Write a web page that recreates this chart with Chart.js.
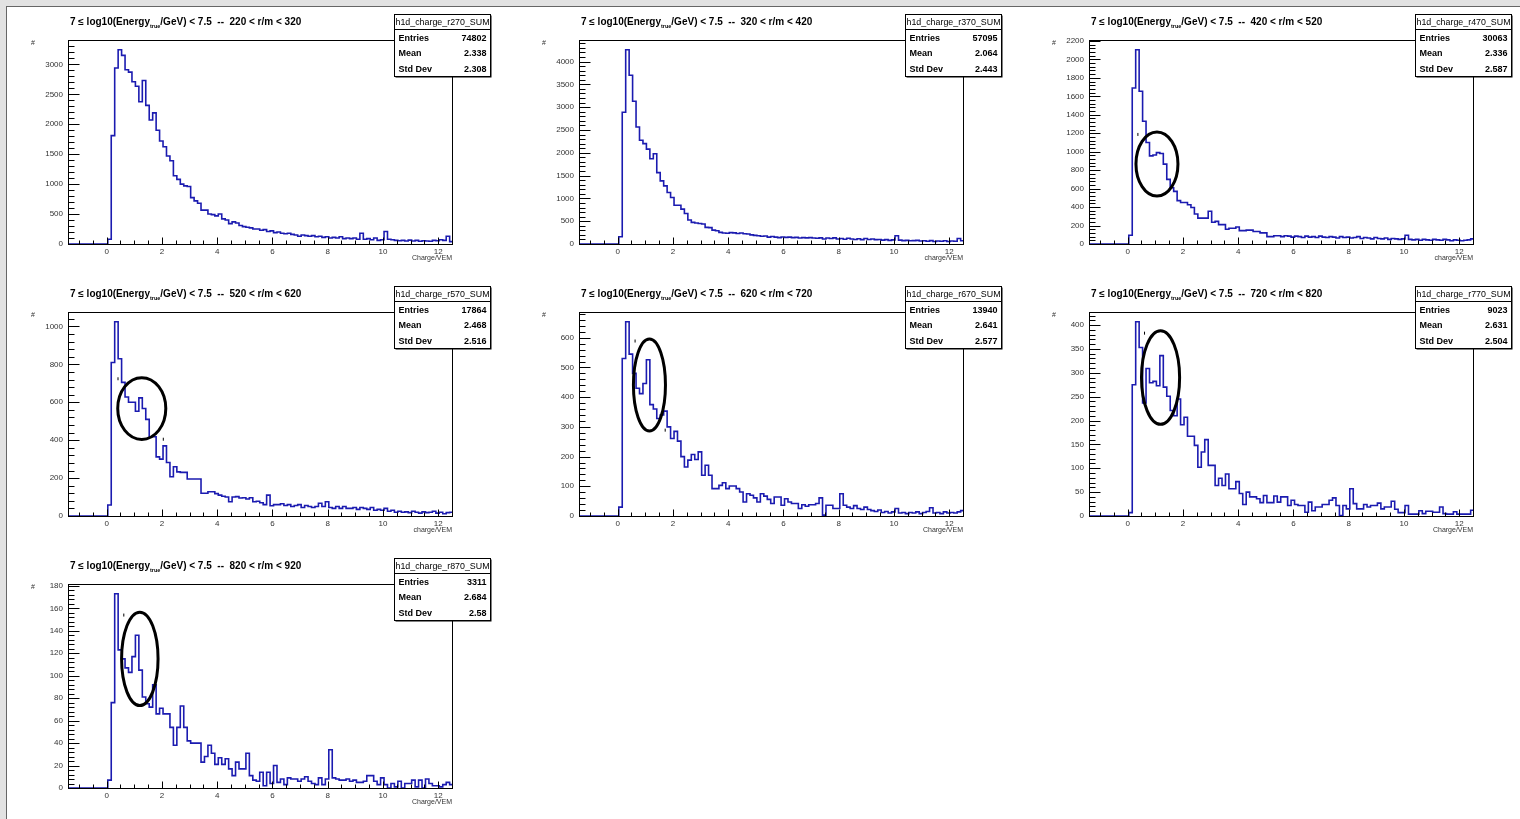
<!DOCTYPE html>
<html>
<head>
<meta charset="utf-8">
<script src="https://cdn.jsdelivr.net/npm/chart.js@4.4.1/dist/chart.umd.min.js"></script>
<style>
  html, body { margin: 0; padding: 0; }
  body { width: 1520px; height: 819px; background: #e2e2e2; overflow: hidden; position: relative; }
  #sheet { position: absolute; left: 6px; top: 6px; width: 1514px; height: 813px; background: #fff;
           border-left: 1px solid #666; border-top: 1px solid #666; }
  .pad { position: absolute; width: 510px; height: 272px; }
</style>
</head>
<body>
<div id="sheet"></div>
<script>
const FONT = '"Liberation Sans", Arial, Helvetica, sans-serif';

// binning of the histograms (first filled bin edge, bin width) and axis range
const BIN_LO = 0.04;
const BIN_W = 0.125;
const X_MIN = -1.4;
const X_MAX = 12.5;
const X_MAJOR = 2;
const X_MINOR = 0.5;

// one entry per pad, left to right, top to bottom
const rangeLabels = ["220 < r/m < 320", "320 < r/m < 420", "420 < r/m < 520", "520 < r/m < 620",
                     "620 < r/m < 720", "720 < r/m < 820", "820 < r/m < 920"];
const histNames = ["h1d_charge_r270_SUM", "h1d_charge_r370_SUM", "h1d_charge_r470_SUM", "h1d_charge_r570_SUM",
                   "h1d_charge_r670_SUM", "h1d_charge_r770_SUM", "h1d_charge_r870_SUM"];
const entries = ["74802", "57095", "30063", "17864", "13940", "9023", "3311"];
const means = ["2.338", "2.064", "2.336", "2.468", "2.641", "2.631", "2.684"];
const stdDevs = ["2.308", "2.443", "2.587", "2.516", "2.577", "2.504", "2.58"];
const xTitles = ["Charge/VEM", "charge/VEM", "charge/VEM", "charge/VEM", "Charge/VEM", "Charge/VEM", "Charge/VEM"];
const yMajorSteps = [500, 500, 200, 200, 100, 50, 20];
const yMinorSteps = [100, 100, 40, 40, 20, 10, 4];

// bin contents, starting at BIN_LO
const counts220 = [
  80, 1810, 2940, 3245, 3150, 2910, 2870, 2710, 2635, 2375,
  2730, 2315, 2070, 2190, 1900, 1720, 1625, 1470, 1390, 1140,
  1080, 1000, 970, 960, 775, 720, 680, 565, 565, 500,
  490, 470, 500, 420, 400, 340, 370, 350, 310, 290,
  280, 270, 250, 250, 230, 240, 210, 220, 190, 200,
  180, 170, 180, 160, 150, 130, 150, 140, 130, 140,
  120, 130, 110, 120, 100, 110, 100, 120, 90, 100,
  90, 100, 80, 180, 80, 90, 70, 100, 60, 70,
  210, 80, 70, 60, 55, 60, 50, 65, 50, 60,
  45, 55, 50, 45, 60, 55, 70, 60, 130, 40
];
const counts320 = [
  160, 2890, 4260, 3700, 3130, 2565, 2275, 2200, 2080, 1870,
  1980, 1565, 1385, 1275, 1130, 1020, 850, 850, 765, 670,
  525, 475, 460, 450, 440, 365, 360, 305, 290, 255,
  240, 235, 250, 245, 230, 240, 225, 220, 200, 190,
  180, 170, 175, 150, 165, 150, 140, 155, 145, 150,
  140, 145, 130, 140, 135, 140, 130, 125, 135, 110,
  130, 120, 135, 110, 120, 105, 125, 110, 100, 115,
  95, 120, 100, 110, 95, 100, 85, 95, 80, 90,
  180, 85, 75, 80, 70, 75, 80, 65, 70, 60,
  75, 55, 65, 60, 70, 55, 65, 60, 120, 70
];
const counts420 = [
  95, 1690, 2105, 1655, 1330, 1100, 955, 965, 990, 980,
  865, 700, 610, 570, 470, 450, 450, 425, 395, 325,
  280, 280, 280, 355, 235, 245, 210, 210, 160, 170,
  170, 185, 145, 145, 150, 150, 135, 135, 120, 120,
  80, 80, 90, 90, 80, 90, 85, 75, 85, 80,
  70, 85, 75, 80, 70, 85, 75, 70, 80, 75,
  65, 80, 70, 75, 65, 70, 80, 60, 70, 65,
  55, 70, 60, 55, 65, 50, 60, 55, 50, 55,
  95, 50, 45, 50, 40, 50, 45, 40, 50, 45,
  40, 50, 45, 35, 45, 40, 35, 40, 45, 55
];
const counts520 = [
  58, 810, 1025, 830, 705, 628, 600, 600, 553, 623,
  567, 510, 418, 418, 312, 300, 370, 282, 207, 260,
  233, 230, 230, 195, 195, 195, 195, 120, 120, 128,
  128, 118, 110, 104, 100, 75, 100, 102, 95, 96,
  90, 96, 75, 78, 70, 60, 110, 54, 60, 60,
  65, 55, 60, 50, 55, 60, 45, 55, 50, 45,
  50, 67, 50, 75, 45, 40, 50, 40, 50, 40,
  40, 45, 35, 45, 40, 35, 45, 30, 35, 30,
  40, 25, 30, 20, 25, 20, 22, 18, 25, 20,
  15, 22, 18, 20, 25, 15, 20, 12, 18, 20
];
const counts620 = [
  30, 530, 654, 545, 480, 430, 412, 446, 526, 375,
  360, 328, 340, 353, 300, 261, 285, 252, 200, 165,
  188, 207, 190, 216, 137, 171, 137, 92, 92, 103,
  112, 92, 101, 101, 92, 81, 47, 75, 70, 61,
  47, 75, 67, 56, 42, 64, 64, 36, 58, 47,
  42, 42, 25, 38, 33, 38, 38, 42, 61, 3,
  36, 36, 25, 25, 75, 36, 30, 25, 35, 25,
  22, 30, 22, 18, 15, 20, 12, 15, 10, 14,
  25, 10, 12, 8, 12, 10, 14, 8, 12, 15,
  28, 10, 12, 8, 14, 10, 12, 10, 14, 18
];
const counts720 = [
  7, 275, 407, 353, 237, 309, 279, 282, 273, 336,
  270, 251, 221, 210, 245, 191, 207, 167, 167, 148,
  102, 134, 160, 106, 106, 64, 79, 64, 88, 57,
  57, 72, 47, 24, 50, 40, 40, 36, 28, 43,
  28, 28, 42, 29, 40, 40, 22, 33, 24, 22,
  22, 8, 29, 11, 19, 19, 24, 24, 33, 38,
  22, 1, 22, 15, 57, 26, 15, 15, 24, 19,
  22, 22, 27, 15, 19, 19, 31, 14, 7, 7,
  22, 4, 4, 4, 11, 5, 10, 10, 8, 8,
  19, 5, 4, 4, 9, 4, 4, 4, 4, 12
];
const counts820 = [
  7, 76, 173, 123, 115, 107, 103, 117, 136, 105,
  81, 75, 72, 92, 66, 71, 66, 66, 54, 38,
  54, 73, 54, 42, 40, 40, 40, 23, 28, 38,
  31, 21, 27, 21, 26, 17, 11, 23, 17, 17,
  31, 11, 7, 6, 14, 2, 14, 4, 20, 5,
  8, 3, 9, 8, 8, 6, 8, 10, 6, 4,
  3, 9, 3, 8, 34, 9, 8, 7, 7, 8,
  6, 7, 5, 5, 6, 11, 11, 6, 3, 9,
  3, 0, 4, 1, 6, 0, 4, 4, 7, 1,
  7, 0, 8, 4, 2, 2, 1, 3, 5, 3
];
const countsByPad = [counts220, counts320, counts420, counts520, counts620, counts720, counts820];

// stray black error-bar ticks visible in some pads
const markXs = [[], [], [0.37], [0.41, 2.05], [0.63, 1.72], [0.61], [0.62]];
const markYs = [[], [], [1187], [724, 405], [589, 289], [383], [154]];

// hand-drawn circles (data units: centre x, centre y, radius x, radius y)
const circles = [null, null,
  {cx: 1.06, cy: 867, rx: 0.76, ry: 347},
  {cx: 1.27, cy: 567, rx: 0.87, ry: 163},
  {cx: 1.15, cy: 441, rx: 0.58, ry: 155},
  {cx: 1.19, cy: 290, rx: 0.69, ry: 98},
  {cx: 1.20, cy: 115, rx: 0.66, ry: 41.6}];

const HIST_COLOR = '#1b1bb0';

function isMultiple(v, step) {
  const r = v / step;
  return Math.abs(r - Math.round(r)) < 1e-6;
}

// multiples of step inside [lo, hi]
function stepsBetween(lo, hi, step) {
  const out = [];
  for (let k = Math.ceil(lo / step - 1e-9); k * step <= hi + 1e-9; k++) {
    out.push(Math.round(k * step * 1000) / 1000);
  }
  return out;
}

const rootStyle = {
  id: 'rootStyle',
  afterDraw(chart, args, opts) {
    const { ctx, chartArea: a, scales: { x, y } } = chart;
    ctx.save();

    // circle around the feature
    if (opts.circle) {
      const c = opts.circle;
      const px = x.getPixelForValue(c.cx), py = y.getPixelForValue(c.cy);
      const rx = Math.abs(x.getPixelForValue(c.cx + c.rx) - px);
      const ry = Math.abs(y.getPixelForValue(c.cy + c.ry) - py);
      ctx.beginPath();
      ctx.ellipse(px, py, rx, ry, 0, 0, Math.PI * 2);
      ctx.lineWidth = 3;
      ctx.strokeStyle = '#000';
      ctx.stroke();
    }

    // frame
    ctx.lineWidth = 1;
    ctx.strokeStyle = '#000';
    const L = Math.round(a.left) + 0.5, T = Math.round(a.top) + 0.5;
    const R = Math.round(a.right) + 0.5, B = Math.round(a.bottom) + 0.5;
    ctx.strokeRect(L, T, R - L, B - T);

    // inward ROOT style ticks
    ctx.beginPath();
    stepsBetween(X_MIN, X_MAX, X_MINOR).forEach((v) => {
      const px = Math.round(x.getPixelForValue(v)) + 0.5;
      const len = isMultiple(v, X_MAJOR) ? 7 : 4;
      ctx.moveTo(px, B);
      ctx.lineTo(px, B - len);
    });
    stepsBetween(0, y.max, opts.yMinor).forEach((v) => {
      const py = Math.round(y.getPixelForValue(v)) + 0.5;
      const len = isMultiple(v, opts.yMajor) ? 11 : 6;
      ctx.moveTo(L, py);
      ctx.lineTo(L + len, py);
    });
    ctx.stroke();

    // y axis title
    ctx.fillStyle = '#333';
    ctx.font = '7px ' + FONT;
    ctx.textAlign = 'center';
    ctx.textBaseline = 'middle';
    ctx.fillText('#', 26, 36);

    // pad title with subscript
    ctx.fillStyle = '#000';
    ctx.textAlign = 'left';
    ctx.textBaseline = 'alphabetic';
    let tx = 63;
    const ty = 17.5;
    ctx.font = 'bold 10px ' + FONT;
    const part1 = '7 \u2264 log10(Energy';
    ctx.fillText(part1, tx, ty);
    tx += ctx.measureText(part1).width;
    ctx.font = 'bold 5.5px ' + FONT;
    ctx.fillText('true', tx, ty + 3.5);
    tx += ctx.measureText('true').width;
    ctx.font = 'bold 10px ' + FONT;
    ctx.fillText('/GeV) < 7.5  --  ' + opts.range, tx, ty);

    // stat box
    const bx = 387.5, by = 7.5, bw = 96, bh = 62;
    ctx.fillStyle = '#000';
    ctx.fillRect(bx + 1, by + 1, bw, bh);
    ctx.fillStyle = '#fff';
    ctx.fillRect(bx, by, bw, bh);
    ctx.strokeRect(bx, by, bw, bh);
    ctx.beginPath();
    ctx.moveTo(bx, by + 15);
    ctx.lineTo(bx + bw, by + 15);
    ctx.stroke();
    ctx.fillStyle = '#000';
    ctx.font = '9px ' + FONT;
    ctx.textAlign = 'center';
    ctx.fillText(opts.name, bx + bw / 2, by + 10.5, bw - 2);
    ctx.font = 'bold 9px ' + FONT;
    const rows = [['Entries', opts.entries], ['Mean', opts.mean], ['Std Dev', opts.std]];
    rows.forEach((r, i) => {
      const ry = by + 26 + i * 15.5;
      ctx.textAlign = 'left';
      ctx.fillText(r[0], bx + 4, ry);
      ctx.textAlign = 'right';
      ctx.fillText(r[1], bx + bw - 4, ry);
    });

    ctx.restore();
  }
};

const sheet = document.getElementById('sheet');

countsByPad.forEach((counts, i) => {
  const col = i % 3, row = Math.floor(i / 3);
  const pad = document.createElement('div');
  pad.className = 'pad';
  pad.style.left = Math.round(col * 510.5) + 'px';
  pad.style.top = (row * 272) + 'px';
  const canvas = document.createElement('canvas');
  canvas.width = 510;
  canvas.height = 272;
  pad.appendChild(canvas);
  sheet.appendChild(pad);

  // histogram outline: horizontal at each bin content, starting from the baseline
  const points = [{ x: X_MIN, y: 0 }];
  counts.forEach((c, j) => points.push({ x: BIN_LO + j * BIN_W, y: c }));
  points.push({ x: BIN_LO + counts.length * BIN_W, y: counts[counts.length - 1] });

  const marks = markXs[i].map((mx, k) => ({ x: mx, y: markYs[i][k] }));
  const yMax = Math.max(...counts) * 1.05;
  const yStep = yMajorSteps[i];

  new Chart(canvas, {
    type: 'line',
    data: {
      datasets: [
        {
          data: points,
          stepped: true,
          borderColor: HIST_COLOR,
          borderWidth: 1.6,
          pointRadius: 0,
          fill: false,
          tension: 0
        },
        {
          type: 'scatter',
          data: marks,
          pointStyle: 'line',
          rotation: 90,
          radius: 1.5,
          borderColor: '#000',
          borderWidth: 1
        }
      ]
    },
    options: {
      responsive: false,
      animation: false,
      devicePixelRatio: 1,
      layout: { padding: { left: 0, top: 33, right: 65, bottom: 0 } },
      plugins: {
        legend: { display: false },
        tooltip: { enabled: false },
        rootStyle: {
          range: rangeLabels[i],
          name: histNames[i],
          entries: entries[i],
          mean: means[i],
          std: stdDevs[i],
          yMajor: yStep,
          yMinor: yMinorSteps[i],
          circle: circles[i]
        }
      },
      scales: {
        x: {
          type: 'linear',
          min: X_MIN,
          max: X_MAX,
          grid: { display: false, drawTicks: false },
          border: { display: false },
          ticks: {
            autoSkip: false, maxRotation: 0, padding: 3,
            color: '#333', font: { family: FONT, size: 8 },
            callback: (v) => String(v)
          },
          afterBuildTicks(s) {
            s.ticks = stepsBetween(X_MIN, X_MAX, X_MAJOR).map((v) => ({ value: v }));
          },
          title: {
            display: true, text: xTitles[i], align: 'end', color: '#333',
            font: { family: FONT, size: 7 }, padding: { top: 0, bottom: 17 }
          },
          afterFit(s) { s.height = 35; }
        },
        y: {
          type: 'linear',
          min: 0,
          max: yMax,
          grid: { display: false, drawTicks: false },
          border: { display: false },
          ticks: {
            autoSkip: false, padding: 5,
            color: '#333', font: { family: FONT, size: 8 },
            callback: (v) => String(v)
          },
          afterBuildTicks(s) {
            s.ticks = stepsBetween(0, yMax, yStep).map((v) => ({ value: v }));
          },
          afterFit(s) { s.width = 61; }
        }
      }
    },
    plugins: [rootStyle]
  });
});
</script>
</body>
</html>
